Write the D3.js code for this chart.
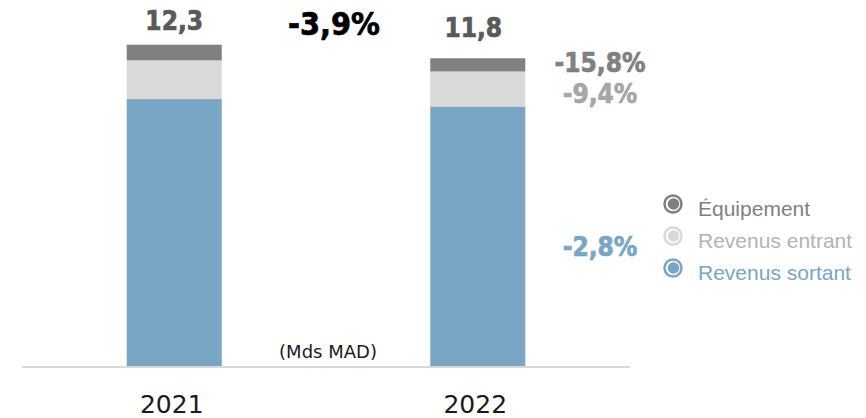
<!DOCTYPE html>
<html>
<head>
<meta charset="utf-8">
<script src="https://cdn.jsdelivr.net/npm/d3@7"></script>
<style>
  html, body { margin: 0; padding: 0; background: #fff; }
  svg { display: block; }
</style>
</head>
<body>
<svg id="chart" width="866" height="418"></svg>
<script>
// ---- data ----
const years = ["2021", "2022"];
const seriesNames = ["Revenus sortant", "Revenus entrant", "Équipement"];
const revenusSortant = [10.22, 9.935];
const revenusEntrant = [1.48, 1.34];
const equipement = [0.60, 0.505];
const totalLabels = ["12,3", "11,8"];
const totalChange = "-3,9%";
const seriesChanges = ["-2,8%", "-9,4%", "-15,8%"];
const unitLabel = "(Mds MAD)";
const legendOrder = ["Équipement", "Revenus entrant", "Revenus sortant"];

// ---- styles ----
const colors = {
  "Revenus sortant": "#7aa6c6",
  "Revenus entrant": "#d9d9d9",
  "Équipement": "#808080"
};
const changeColors = {
  "Revenus sortant": "#7aa6c6",
  "Revenus entrant": "#a6a6a6",
  "Équipement": "#808080"
};
const legendText = {
  "Revenus sortant": "#7aa6c6",
  "Revenus entrant": "#b3b3b3",
  "Équipement": "#7f7f7f"
};

const table = years.map((y, i) => ({
  year: y,
  "Revenus sortant": revenusSortant[i],
  "Revenus entrant": revenusEntrant[i],
  "Équipement": equipement[i]
}));

const svg = d3.select("#chart");
const baseY = 366;

const x = d3.scaleBand().domain(years).range([22, 630])
  .paddingInner(0.687).paddingOuter(0.345);
const y = d3.scaleLinear().domain([0, 12.3]).range([baseY, 44.7]);

const stack = d3.stack().keys(seriesNames)(table);

svg.append("g").selectAll("g").data(stack).join("g")
  .attr("fill", d => colors[d.key])
  .selectAll("rect").data(d => d).join("rect")
  .attr("x", d => x(d.data.year))
  .attr("width", x.bandwidth())
  .attr("y", d => y(d[1]))
  .attr("height", d => y(d[0]) - y(d[1]));

// baseline
svg.append("line")
  .attr("x1", x.range()[0]).attr("x2", x.range()[1])
  .attr("y1", baseY + 1).attr("y2", baseY + 1)
  .attr("stroke", "#d9d9d9").attr("stroke-width", 2);

// year labels
const xAxis = d3.axisBottom(x).tickSize(0).tickPadding(0);
const ax = svg.append("g").attr("transform", `translate(-2.5, ${baseY})`).call(xAxis);
ax.select(".domain").remove();
ax.selectAll("text")
  .attr("y", 47).attr("dy", 0)
  .attr("font-family", "'DejaVu Sans', sans-serif")
  .attr("font-size", 25)
  .attr("fill", "#1a1a1a");

const boldFont = "'DejaVu Sans Condensed', 'DejaVu Sans', sans-serif";
function boldText(sel, color, size) {
  return sel.attr("font-family", boldFont)
    .attr("font-weight", "bold")
    .attr("font-size", size)
    .attr("fill", color)
    .attr("stroke", color)
    .attr("stroke-width", 0.7)
    .attr("paint-order", "stroke");
}

// totals
const totalOffsets = [[0, 30], [-4.5, 37]];
years.forEach((yr, i) => {
  boldText(svg.append("text")
    .attr("x", x(yr) + x.bandwidth() / 2 + totalOffsets[i][0])
    .attr("y", totalOffsets[i][1])
    .attr("text-anchor", "middle"), "#595959", 26)
    .text(totalLabels[i]);
});

// overall change
boldText(svg.append("text")
  .attr("x", (x(years[0]) + x(years[1]) + x.bandwidth()) / 2 + 8)
  .attr("y", 35)
  .attr("text-anchor", "middle"), "#000", 32)
  .text(totalChange);

// series change labels
const changeY = { "Équipement": 72, "Revenus entrant": 103, "Revenus sortant": 256 };
seriesNames.forEach((k, i) => {
  boldText(svg.append("text")
    .attr("x", 600)
    .attr("y", changeY[k])
    .attr("text-anchor", "middle"), changeColors[k], 26)
    .text(seriesChanges[i]);
});

// unit label
svg.append("text")
  .attr("x", 328).attr("y", 358)
  .attr("text-anchor", "middle")
  .attr("font-family", "'DejaVu Sans', sans-serif")
  .attr("font-size", 18)
  .attr("fill", "#1a1a1a")
  .text(unitLabel);

// legend
const legY = [204, 236, 268];
const leg = svg.append("g").selectAll("g").data(legendOrder).join("g")
  .attr("transform", (d, i) => `translate(673, ${legY[i]})`);
leg.append("circle").attr("r", 8.5)
  .attr("fill", "none")
  .attr("stroke", d => colors[d])
  .attr("stroke-width", 2.5);
leg.append("circle").attr("r", 5.8).attr("cx", 0.5).attr("cy", 0)
  .attr("fill", d => colors[d]);
leg.append("text")
  .attr("x", 25).attr("y", 12)
  .attr("font-family", "'Liberation Sans', Arial, sans-serif")
  .attr("font-size", 21)
  .attr("fill", d => legendText[d])
  .text(d => d);
</script>
</body>
</html>
